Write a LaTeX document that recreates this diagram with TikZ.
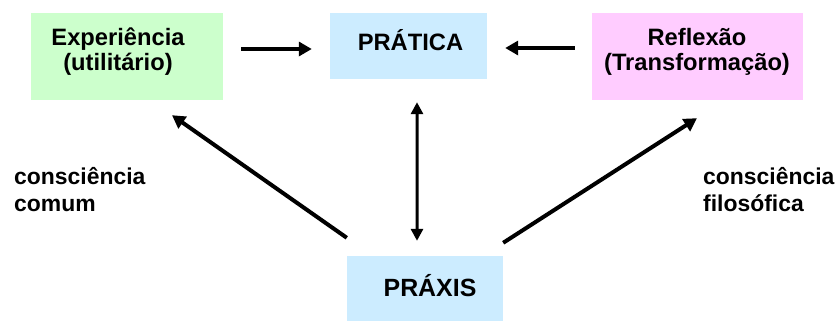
\documentclass[tikz,border=0pt]{standalone}
\usepackage{fontspec}
\setmainfont{Liberation Sans}
\usetikzlibrary{arrows.meta,calc}
\definecolor{cgreen}{RGB}{204,255,204}
\definecolor{cblue}{RGB}{204,236,255}
\definecolor{cpink}{RGB}{255,204,255}
\begin{document}
\begin{tikzpicture}[x=1bp,y=-1bp,
  box/.style={draw=none,inner sep=0pt,minimum width=#1},
  lbl/.style={inner sep=0pt,align=center,font=\bfseries\fontsize{23.8}{25}\selectfont},
  side/.style={inner sep=0pt,align=left,font=\bfseries\fontsize{23}{27}\selectfont},
  arr/.style={line width=4bp,-{Triangle[length=13bp,width=14bp]}},
  varr/.style={line width=3bp,{Triangle[length=12bp,width=12bp]}-{Triangle[length=12bp,width=12bp]}}]
\useasboundingbox (0,0) rectangle (839,320);
% boxes
\node[box=192bp,minimum height=87bp,fill=cgreen] (exp) at (127,56.5) {};
\node[box=157bp,minimum height=66bp,fill=cblue] (prat) at (408.5,46) {};
\node[box=211bp,minimum height=87bp,fill=cpink] (refl) at (697.5,56.5) {};
\node[box=156bp,minimum height=68bp,fill=cblue] (prax) at (425,290) {};
% texts
\node[lbl] (expt) at (118,52) {Experiência\\(utilitário)};
\node[lbl] (pratt) at (410.5,40) {PRÁTICA};
\node[lbl] (reflt) at (697,52) {Reflexão\\(Transformação)};
\node[lbl,font=\bfseries\fontsize{25}{26}\selectfont] (praxt) at (430,286) {PRÁXIS};
\node[side,anchor=west] (cc) at (14,190) {consciência\\comum};
\node[side,anchor=west] (cf) at (703,190) {consciência\\filosófica};
% connectors
\draw[arr] ($(exp.east)+(18,-7.5)$) -- ($(prat.west)+(-18,3)$);
\draw[arr] ($(refl.west)+(-17,-8.5)$) -- ($(prat.east)+(18,2)$);
\draw[varr] ($(prat.south)+(8.5,23)$) -- ($(prax.north)+(-8,-15)$);
\draw[arr] ($(prax.north west)+(0,-18)$) -- ($(exp.south)+(45,15)$);
\draw[arr] ($(prax.north east)+(0,-13)$) -- ($(refl.south)+(-0.5,18)$);
\end{tikzpicture}
\end{document}
